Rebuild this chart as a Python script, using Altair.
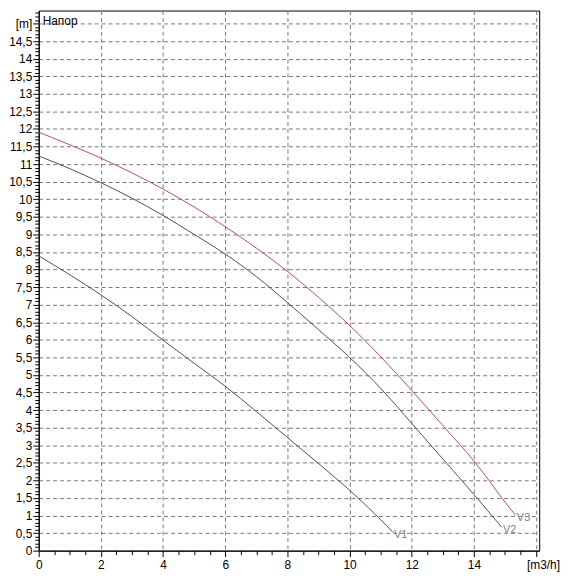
import altair as alt
import pandas as pd

# ---- data ----
v1_q = [0, 1, 2, 3, 4, 5, 6, 7, 8, 9, 10, 11, 11.4]
v1_h = [8.39, 7.85, 7.28, 6.66, 5.99, 5.33, 4.68, 3.96, 3.22, 2.48, 1.72, 0.88, 0.52]

v2_q = [0, 1, 2, 3, 4, 5, 6, 7, 8, 9, 10, 11, 12, 13, 14, 14.9]
v2_h = [11.23, 10.87, 10.47, 10.03, 9.54, 9.00, 8.44, 7.80, 7.06, 6.29, 5.50, 4.62, 3.62, 2.61, 1.60, 0.66]

v3_q = [0, 1, 2, 3, 4, 5, 6, 7, 8, 9, 10, 11, 12, 13, 14, 14.5, 15, 15.35]
v3_h = [11.91, 11.55, 11.17, 10.75, 10.29, 9.78, 9.22, 8.61, 7.95, 7.21, 6.41, 5.52, 4.56, 3.56, 2.55, 1.98, 1.38, 1.00]

series_names = ["V1", "V2", "V3"]
series_colors = ["#505050", "#505050", "#b0505e"]

y_tick_values = [round(i * 0.1, 1) for i in range(0, 154)]
x_tick_values = [i * 0.5 for i in range(0, 33)]

title_text = "Напор"

rows = []
for name, qs, hs in zip(series_names, [v1_q, v2_q, v3_q], [v1_h, v2_h, v3_h]):
    for q, h in zip(qs, hs):
        rows.append({"series": name, "q": q, "h": h})
df = pd.DataFrame(rows)

ends = pd.DataFrame(
    [{"series": n, "q": qs[-1], "h": hs[-1]} for n, qs, hs in zip(series_names, [v1_q, v2_q, v3_q], [v1_h, v2_h, v3_h])]
)
title_df = pd.DataFrame([{"q": 0, "h": 15, "t": title_text}])

major_y = "abs(datum.value*2 - round(datum.value*2)) < 0.01"
major_x = "abs(datum.value/2 - round(datum.value/2)) < 0.01"

y_axis = alt.Axis(
    values=y_tick_values,
    tickCount=400,
    labelExpr="abs(datum.value - 15) < 0.01 ? '[m]' : (" + major_y + " ? replace(format(datum.value, '.1~f'), '.', ',') : '')",
    tickSize={"condition": {"test": major_y, "value": 6}, "value": 4},
    gridOpacity={"condition": {"test": major_y, "value": 1}, "value": 0},
    grid=True,
    gridDash=[4, 3],
    gridColor="#777777",
    gridWidth=1,
    domainColor="black",
    tickColor="black",
    labelColor="black",
    labelFont="Liberation Sans",
    labelFontSize=12,
    labelPadding=1,
    labelOverlap=False,
    labelFlush=False,
    labelBound=False,
    title=None,
)

x_axis = alt.Axis(
    values=x_tick_values,
    tickCount=100,
    labelExpr="abs(datum.value - 16) < 0.01 ? '[m3/h]' : (" + major_x + " ? format(datum.value, 'd') : '')",
    labelOffset={"condition": {"test": "datum.value > 15.9", "value": 7}, "value": 0},
    tickSize={"condition": {"test": major_x, "value": 6}, "value": 4},
    gridOpacity={"condition": {"test": major_x + " && datum.value > 0.1", "value": 1}, "value": 0},
    grid=True,
    gridDash=[4, 3],
    gridColor="#777777",
    gridWidth=1,
    domainColor="black",
    tickColor="black",
    labelColor="black",
    labelFont="Liberation Sans",
    labelFontSize=12,
    labelPadding=3,
    labelOverlap=False,
    labelFlush=False,
    labelBound=False,
    title=None,
)

xs = alt.Scale(domain=[0, 16.1], nice=False, zero=False)
ys = alt.Scale(domain=[0, 15.37], nice=False, zero=False)
color_scale = alt.Scale(domain=series_names, range=series_colors)

lines = alt.Chart(df).mark_line(strokeWidth=1, interpolate="monotone", clip=True).encode(
    x=alt.X("q:Q", scale=xs, axis=x_axis),
    y=alt.Y("h:Q", scale=ys, axis=y_axis),
    color=alt.Color("series:N", scale=color_scale, legend=None),
    detail="series:N",
)

end_labels = alt.Chart(ends).mark_text(
    align="left", baseline="middle", dx=1, dy=3, fontSize=11, font="Liberation Sans", color="#808080"
).encode(
    x=alt.X("q:Q", scale=xs),
    y=alt.Y("h:Q", scale=ys),
    text="series:N",
)

title_mark = alt.Chart(title_df).mark_text(
    align="left", baseline="alphabetic", dx=4, dy=1, fontSize=12, font="Liberation Sans", color="black"
).encode(
    x=alt.X("q:Q", scale=xs),
    y=alt.Y("h:Q", scale=ys),
    text="t:N",
)

chart = (
    alt.layer(lines, end_labels, title_mark)
    .properties(
        width=505,
        height=545,
        autosize=alt.AutoSizeParams(type="none"),
        padding={"left": 31, "top": 0, "right": 22, "bottom": 22},
        background="white",
    )
    .configure_view(stroke="black", strokeWidth=1)
)

chart.save("out.html", embed_options={"renderer": "svg", "actions": False})
